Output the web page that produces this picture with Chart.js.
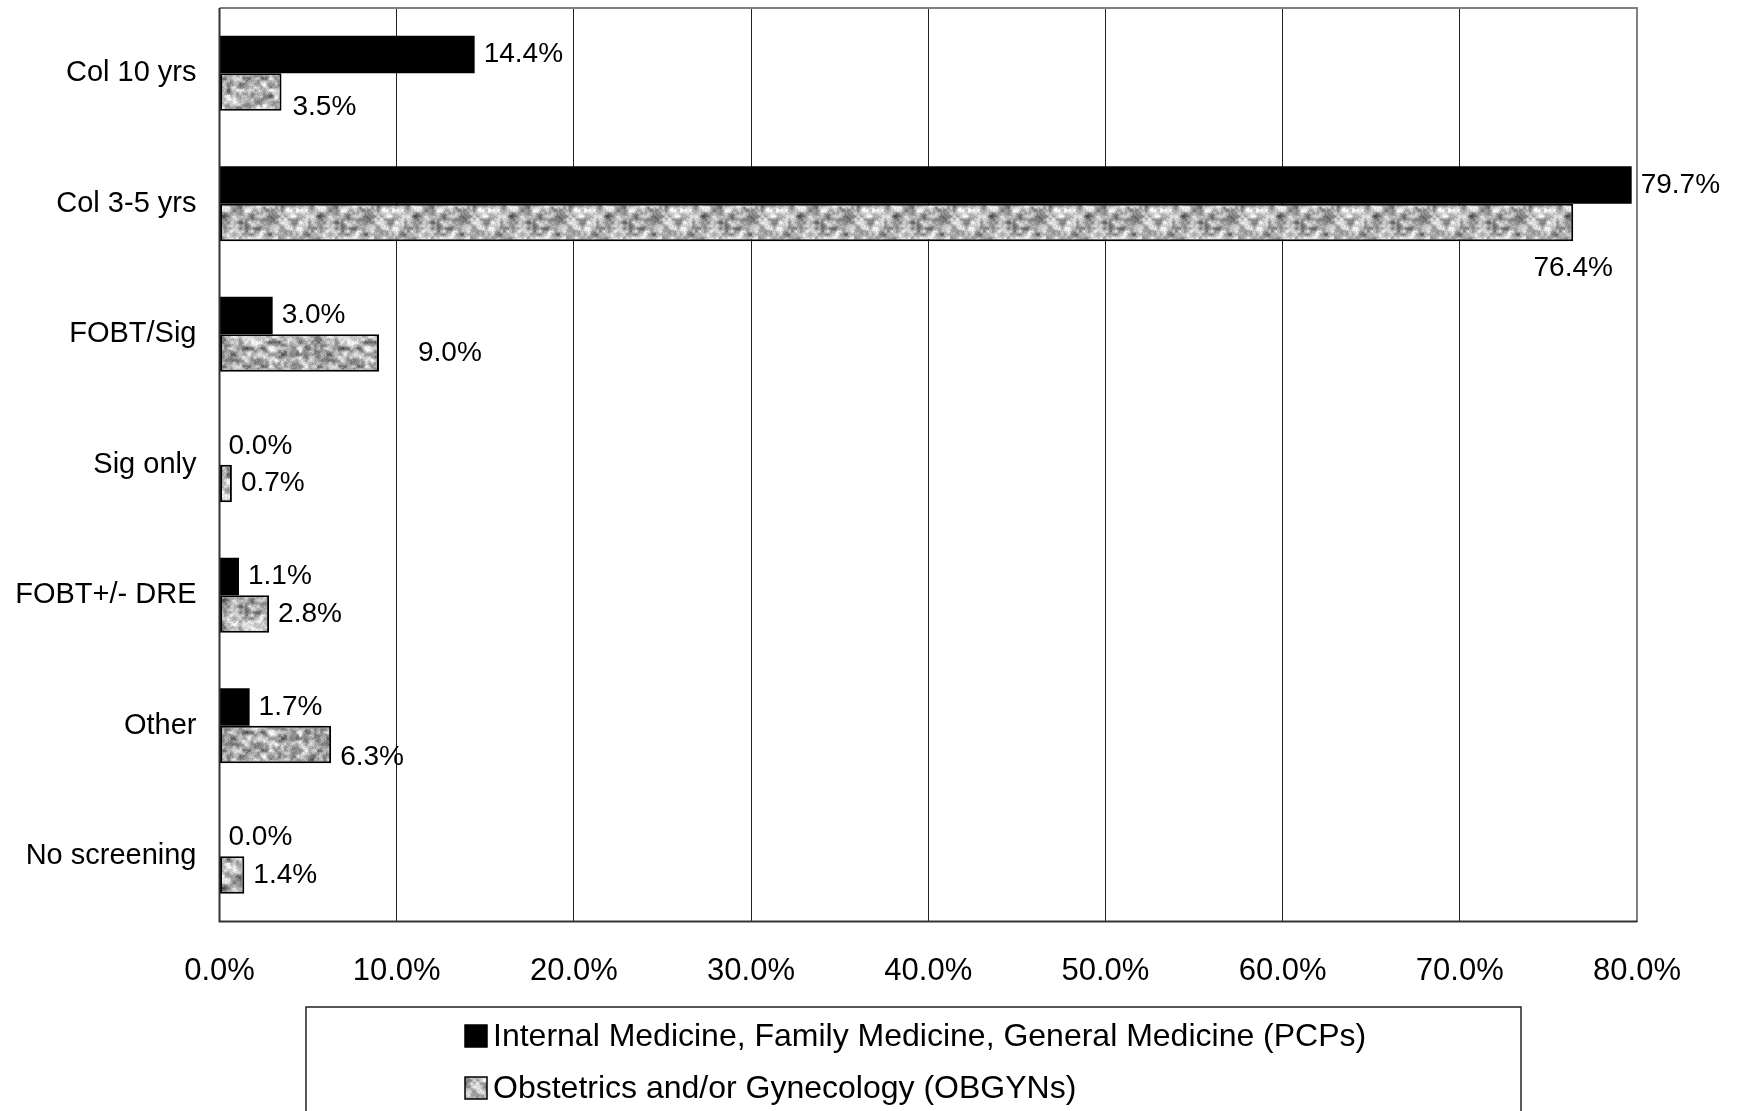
<!DOCTYPE html>
<html>
<head>
<meta charset="utf-8">
<script src="https://cdn.jsdelivr.net/npm/chart.js@4.4.1/dist/chart.umd.min.js"></script>
<style>
  html, body { margin: 0; padding: 0; background: #fff; }
  #wrap { width: 1738px; height: 1111px; }
</style>
</head>
<body>
<div id="wrap"><canvas id="chart" width="1738" height="1111"></canvas></div>
<script>
// Screening method recommended, by physician group (percent of respondents)
const categories = ['Col 10 yrs', 'Col 3-5 yrs', 'FOBT/Sig', 'Sig only', 'FOBT+/- DRE', 'Other', 'No screening'];
const pcpValues = [14.4, 79.7, 3.0, 0.0, 1.1, 1.7, 0.0];
const obgynValues = [3.5, 76.4, 9.0, 0.7, 2.8, 6.3, 1.4];
const xTickValues = [0, 10, 20, 30, 40, 50, 60, 70, 80];
const seriesNames = [
  'Internal Medicine, Family Medicine, General Medicine (PCPs)',
  'Obstetrics and/or Gynecology (OBGYNs)'
];

// Label placement tweaks for a few OBGYN value labels (pixels)
const obgynLabelShift = { 0: { dx: 2, dy: 15 }, 1: { center: true, dy: 46 }, 2: { dx: 30 }, 5: { dy: 13 } };

const FONT = '"Liberation Sans", Arial, sans-serif';

// Mottled grey fill used for the OBGYN bars
function makeTexture() {
  const size = 96;
  const c = document.createElement('canvas');
  c.width = size; c.height = size;
  const g = c.getContext('2d');
  const img = g.createImageData(size, size);
  function hash(x, y, s) {
    let h = Math.imul(x, 374761393) ^ Math.imul(y, 668265263) ^ Math.imul(s, 2246822519);
    h = Math.imul(h ^ (h >>> 13), 1274126177);
    h ^= h >>> 16;
    return (h >>> 0) / 4294967295;
  }
  function smooth(t) { return t * t * (3 - 2 * t); }
  function noise(x, y, cell, seed) {
    const n = size / cell;
    const gx = x / cell, gy = y / cell;
    const x0 = Math.floor(gx), y0 = Math.floor(gy);
    const fx = smooth(gx - x0), fy = smooth(gy - y0);
    const a = hash(x0 % n, y0 % n, seed), b = hash((x0 + 1) % n, y0 % n, seed);
    const cc = hash(x0 % n, (y0 + 1) % n, seed), d = hash((x0 + 1) % n, (y0 + 1) % n, seed);
    return (a * (1 - fx) + b * fx) * (1 - fy) + (cc * (1 - fx) + d * fx) * fy;
  }
  for (let y = 0; y < size; y++) {
    for (let x = 0; x < size; x++) {
      const n1 = noise(x, y, 6, 1), n2 = noise(x, y, 3, 2), n3 = noise(x, y, 1, 3);
      let v = 172 + (n1 - 0.5) * 110 + (n2 - 0.5) * 90 + (n3 - 0.5) * 40;
      v = Math.max(50, Math.min(250, v));
      const i = (y * size + x) * 4;
      img.data[i] = img.data[i + 1] = img.data[i + 2] = v;
      img.data[i + 3] = 255;
    }
  }
  g.putImageData(img, 0, 0);
  return c;
}

const ctx = document.getElementById('chart').getContext('2d');
const texture = ctx.createPattern(makeTexture(), 'repeat');

const valueLabels = {
  id: 'valueLabels',
  afterDatasetsDraw(chart) {
    const c = chart.ctx;
    c.save();
    c.font = '28px ' + FONT;
    c.fillStyle = '#000';
    c.textBaseline = 'middle';
    chart.data.datasets.forEach((ds, di) => {
      const meta = chart.getDatasetMeta(di);
      meta.data.forEach((el, i) => {
        const text = ds.data[i].toFixed(1) + '%';
        const s = di === 1 ? (obgynLabelShift[i] || {}) : {};
        if (s.center) {
          c.textAlign = 'center';
          c.fillText(text, el.x + (s.dx || 0), el.y + (s.dy || 0));
        } else {
          c.textAlign = 'left';
          c.fillText(text, el.x + 9 + (s.dx || 0), el.y + (s.dy || 0));
        }
      });
    });
    c.restore();
  }
};

const frameAndLegend = {
  id: 'frameAndLegend',
  afterDraw(chart) {
    const c = chart.ctx;
    const a = chart.chartArea;
    c.save();
    // plot frame
    c.strokeStyle = '#808080';
    c.lineWidth = 2;
    c.beginPath();
    c.moveTo(a.left, a.top); c.lineTo(a.right, a.top); c.lineTo(a.right, a.bottom);
    c.stroke();
    c.strokeStyle = '#333';
    c.beginPath();
    c.moveTo(a.left, a.top); c.lineTo(a.left, a.bottom); c.lineTo(a.right, a.bottom);
    c.stroke();

    // legend box
    const boxL = 306, boxR = 1521, boxT = 1007;
    c.strokeStyle = '#222';
    c.lineWidth = 1.5;
    c.strokeRect(boxL, boxT, boxR - boxL, 200);
    const rows = [1036, 1088];
    c.font = '32px ' + FONT;
    c.textAlign = 'left';
    c.textBaseline = 'middle';
    chart.data.datasets.forEach((ds, di) => {
      const y = rows[di];
      const mx = 465, ms = 22;
      c.fillStyle = ds.backgroundColor;
      c.fillRect(mx, y - ms / 2, ms, ms);
      c.strokeStyle = '#000';
      c.lineWidth = 1.5;
      c.strokeRect(mx, y - ms / 2, ms, ms);
      c.fillStyle = '#000';
      c.fillText(ds.label, 493, y + 1);
    });
    c.restore();
  }
};

new Chart(ctx, {
  type: 'bar',
  data: {
    labels: categories,
    datasets: [
      {
        label: seriesNames[0],
        data: pcpValues,
        backgroundColor: '#000',
        borderWidth: 0,
        categoryPercentage: 0.575,
        barPercentage: 1.0
      },
      {
        label: seriesNames[1],
        data: obgynValues,
        backgroundColor: texture,
        borderColor: '#000',
        borderWidth: 2,
        borderSkipped: false,
        categoryPercentage: 0.575,
        barPercentage: 1.0
      }
    ]
  },
  options: {
    indexAxis: 'y',
    responsive: false,
    animation: false,
    devicePixelRatio: 1,
    layout: { padding: { top: 8, right: 101, left: 0, bottom: 0 } },
    plugins: {
      legend: { display: false },
      tooltip: { enabled: false }
    },
    scales: {
      x: {
        min: 0,
        max: 80,
        afterBuildTicks(scale) { scale.ticks = xTickValues.map(v => ({ value: v })); },
        afterFit(scale) {
          scale.height = 189.5;
          scale.paddingLeft = 0; scale.paddingRight = 0;
        },
        ticks: {
          callback: v => Number(v).toFixed(1) + '%',
          font: { family: FONT, size: 31 },
          color: '#000',
          padding: 31,
          maxRotation: 0
        },
        grid: { color: '#222', lineWidth: 1, drawTicks: false },
        border: { display: false }
      },
      y: {
        afterFit(scale) {
          scale.width = 219.5;
          scale.paddingTop = 0; scale.paddingBottom = 0;
        },
        ticks: {
          font: { family: FONT, size: 29 },
          color: '#000',
          padding: 23
        },
        grid: { display: false, drawTicks: false },
        border: { display: false }
      }
    }
  },
  plugins: [valueLabels, frameAndLegend]
});
</script>
</body>
</html>
